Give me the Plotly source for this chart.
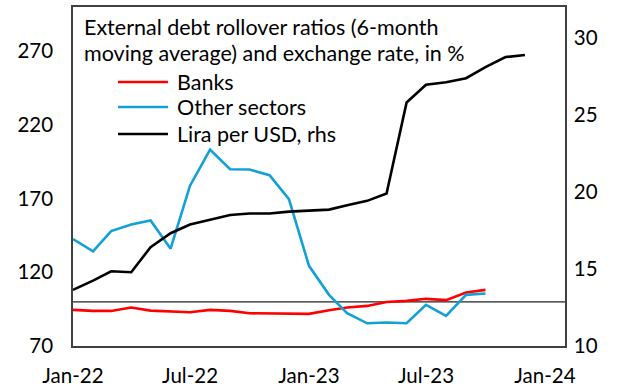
import plotly.graph_objects as go

# Monthly observations, Jan-2022 onward
months = ["2022-01-01", "2022-02-01", "2022-03-01", "2022-04-01", "2022-05-01", "2022-06-01",
          "2022-07-01", "2022-08-01", "2022-09-01", "2022-10-01", "2022-11-01", "2022-12-01",
          "2023-01-01", "2023-02-01", "2023-03-01", "2023-04-01", "2023-05-01", "2023-06-01",
          "2023-07-01", "2023-08-01", "2023-09-01", "2023-10-01", "2023-11-01", "2023-12-01"]

# Rollover ratios (6-month moving average), % — through Oct-2023
banks = [94.5, 93.8, 93.8, 96.1, 94.0, 93.4, 92.9, 94.5, 93.8, 92.2, 92.2, 92.2,
         91.8, 94.3, 96.1, 97.2, 99.9, 100.6, 102.0, 101.1, 106.3, 108.1]
other_sectors = [142.6, 134.2, 148.0, 152.5, 155.2, 136.0, 178.8, 203.3, 189.9, 189.7, 185.9, 169.6,
                 124.4, 104.7, 92.2, 85.4, 85.9, 85.4, 97.9, 90.4, 104.7, 105.6]

# Lira per USD (right-hand scale)
lira_per_usd = [13.64, 14.24, 14.85, 14.79, 16.41, 17.32, 17.88, 18.18, 18.5, 18.6, 18.6, 18.72,
                18.79, 18.85, 19.13, 19.42, 19.9, 25.8, 26.95, 27.12, 27.38, 28.1, 28.75, 28.88]

reference_level = 100
title_lines = ["External debt rollover ratios (6-month",
               "moving average) and exchange rate, in %"]
series_names = ["Banks", "Other sectors", "Lira per USD, rhs"]

FONT = "Lato"
RED = "#FF0000"
BLUE = "#13A0D8"
BLACK = "#000000"
AXIS = "#404040"
colors = [RED, BLUE, BLACK]

fig = go.Figure()
fig.add_trace(go.Scatter(x=months[:len(banks)], y=banks, name=series_names[0], mode="lines",
                         line=dict(color=RED, width=2.6), yaxis="y"))
fig.add_trace(go.Scatter(x=months[:len(other_sectors)], y=other_sectors, name=series_names[1],
                         mode="lines", line=dict(color=BLUE, width=2.6), yaxis="y"))
fig.add_trace(go.Scatter(x=months, y=lira_per_usd, name=series_names[2], mode="lines",
                         line=dict(color=BLACK, width=2.6), yaxis="y2"))

fig.add_shape(type="line", xref="paper", x0=0, x1=1, yref="y", y0=reference_level,
              y1=reference_level, line=dict(color="#222222", width=1.3), layer="below")

# Two-line heading inside the plot frame
for text, ypos in zip(title_lines, [0.941, 0.8643]):
    fig.add_annotation(text=text, xref="paper", yref="paper", x=0.0183, y=ypos,
                       xanchor="left", yanchor="middle", showarrow=False,
                       font=dict(family=FONT, size=21.5, color="#000000"))

# Key: short line samples with labels
for name, color, ypos in zip(series_names, colors, [0.7788, 0.705, 0.6254]):
    fig.add_shape(type="line", xref="paper", yref="paper", x0=0.0915, x1=0.193,
                  y0=ypos, y1=ypos, line=dict(color=color, width=2.6))
    fig.add_annotation(text=name, xref="paper", yref="paper", x=0.2073, y=ypos,
                       xanchor="left", yanchor="middle", showarrow=False,
                       font=dict(family=FONT, size=21.5, color="#000000"))

fig.update_layout(
    width=623, height=387,
    margin=dict(l=73, r=58, t=7, b=41),
    paper_bgcolor="white", plot_bgcolor="white",
    font=dict(family=FONT, size=20.5, color="#000000"),
    showlegend=False,
    xaxis=dict(type="date", range=["2022-01-01", "2024-02-01"], dtick="M6",
               tick0="2022-01-01", tickformat="%b-%y", showgrid=False, zeroline=False,
               showline=True, linecolor=AXIS, linewidth=1.5, mirror=True, ticks="",
               ticklabelstandoff=11, automargin=False),
    yaxis=dict(range=[70, 300], tickvals=[70, 120, 170, 220, 270], showgrid=False,
               zeroline=False, showline=True, linecolor=AXIS, linewidth=1.5, ticks="",
               ticklabelstandoff=14, automargin=False),
    yaxis2=dict(range=[10, 32], tickvals=[10, 15, 20, 25, 30], overlaying="y", side="right",
                showgrid=False, zeroline=False, showline=True, linecolor=AXIS, linewidth=1.5,
                ticks="", ticklabelstandoff=3, automargin=False),
)

fig.write_html("out.html")
